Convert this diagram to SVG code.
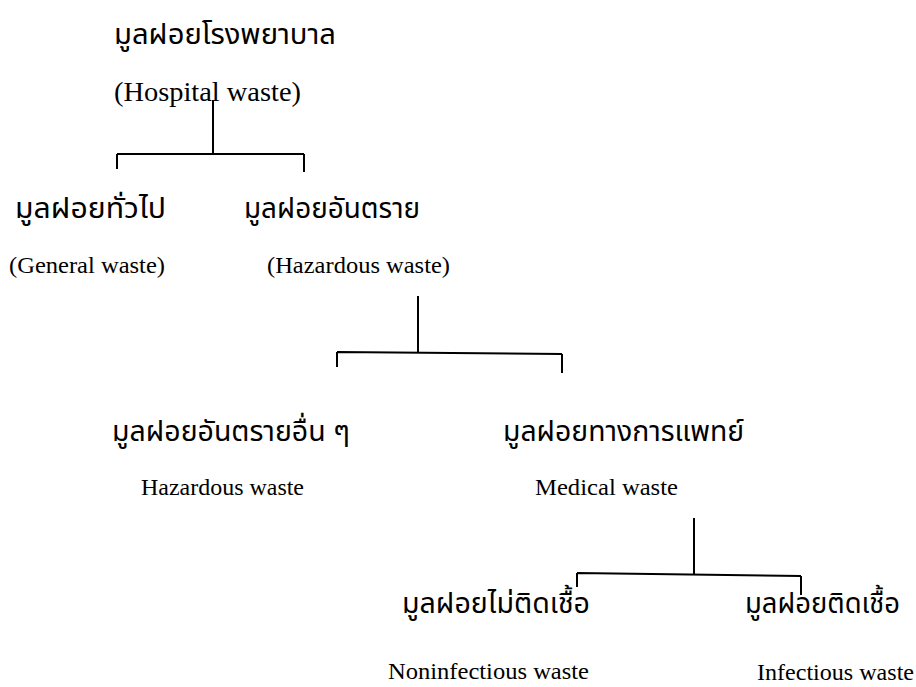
<svg xmlns="http://www.w3.org/2000/svg" width="916" height="687" viewBox="0 0 916 687">
<style>
.th{font-family:"Noto Sans Thai","Noto Serif Thai","Loma","Garuda","Norasi","DejaVu Sans",sans-serif;font-size:28px;fill:#000}
.en{font-family:"Liberation Serif","Times New Roman",serif;font-size:24px;fill:#000}
.ln{stroke:#000;stroke-width:2;fill:none}
</style>
<rect width="916" height="687" fill="#fff"/>
<g id="connectors">
<path class="ln" d="M213,100V154M117,154H304M117,154V169M304,154V172"/>
<path class="ln" d="M418,296V352M337,352L562,354M337,352V367M562,354V373"/>
<path class="ln" d="M694,518V574M577,573L801,576M577,573V587M801,576V595"/>
</g>
<g id="n-hospital">
<text class="th" x="114" y="44" textLength="222" lengthAdjust="spacingAndGlyphs">มูลฝอยโรงพยาบาล</text>
<text class="en" x="114" y="101" style="font-size:28px" textLength="187" lengthAdjust="spacingAndGlyphs">(Hospital waste)</text>
</g>
<g id="n-general">
<text class="th" x="15" y="218" textLength="151" lengthAdjust="spacingAndGlyphs">มูลฝอยทั่วไป</text>
<text class="en" x="9" y="273" textLength="156" lengthAdjust="spacingAndGlyphs">(General waste)</text>
</g>
<g id="n-hazardous">
<text class="th" x="244" y="218" textLength="176" lengthAdjust="spacingAndGlyphs">มูลฝอยอันตราย</text>
<text class="en" x="267" y="273" textLength="183" lengthAdjust="spacingAndGlyphs">(Hazardous waste)</text>
</g>
<g id="n-other-hazardous">
<text class="th" x="112" y="441" textLength="238" lengthAdjust="spacingAndGlyphs">มูลฝอยอันตรายอื่น ๆ</text>
<text class="en" x="141" y="495" textLength="163" lengthAdjust="spacingAndGlyphs">Hazardous waste</text>
</g>
<g id="n-medical">
<text class="th" x="503" y="441" textLength="241" lengthAdjust="spacingAndGlyphs">มูลฝอยทางการแพทย์</text>
<text class="en" x="535" y="495" textLength="143" lengthAdjust="spacingAndGlyphs">Medical waste</text>
</g>
<g id="n-noninfectious">
<text class="th" x="402" y="613" textLength="188" lengthAdjust="spacingAndGlyphs">มูลฝอยไม่ติดเชื้อ</text>
<text class="en" x="388" y="679" textLength="201" lengthAdjust="spacingAndGlyphs">Noninfectious waste</text>
</g>
<g id="n-infectious">
<text class="th" x="745" y="613" textLength="155" lengthAdjust="spacingAndGlyphs">มูลฝอยติดเชื้อ</text>
<text class="en" x="757" y="680" textLength="157" lengthAdjust="spacingAndGlyphs">Infectious waste</text>
</g>
</svg>
